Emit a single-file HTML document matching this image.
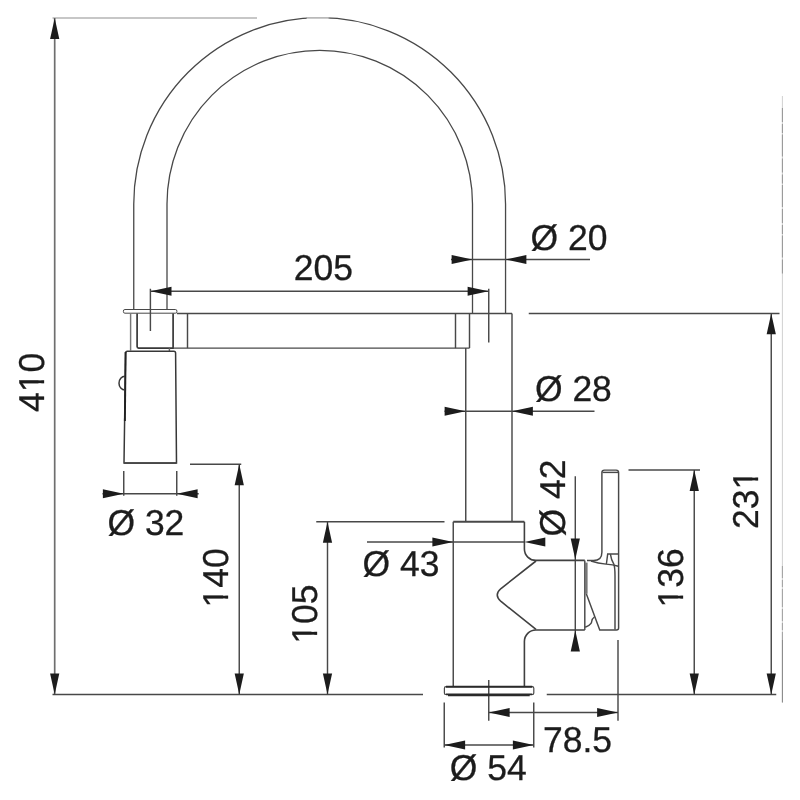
<!DOCTYPE html>
<html lang="en">
<head>
<meta charset="utf-8">
<title>Tap dimensions drawing</title>
<style>
html,body{margin:0;padding:0;background:#fff;}
body{width:800px;height:800px;overflow:hidden;}
svg{display:block;will-change:transform;}
svg text{font-family:"Liberation Sans",Arial,Helvetica,sans-serif;fill:#1c1c1c;stroke:#1c1c1c;stroke-width:0.3px;text-rendering:geometricPrecision;}
</style>
</head>
<body>
<svg width="800" height="800" viewBox="0 0 800 800">
<rect width="800" height="800" fill="#fff"/>
<g fill="none" stroke="#484848" stroke-width="1.45">
<line x1="52.5" y1="18" x2="257" y2="18" stroke="#b4b4b4" stroke-width="1.5"/>
<line x1="54.7" y1="18" x2="54.7" y2="694.5" stroke="#6e6e6e" stroke-width="1.7"/>
<line x1="52.5" y1="694.5" x2="423" y2="694.5"/>
<line x1="546.75" y1="694.5" x2="776.25" y2="694.5"/>
<line x1="150.4" y1="288.75" x2="150.4" y2="331"/>
<line x1="488.75" y1="288.75" x2="488.75" y2="342.5"/>
<line x1="150.4" y1="291.25" x2="488.75" y2="291.25"/>
<line x1="451" y1="259.5" x2="590" y2="259.5"/>
<line x1="444.5" y1="411.25" x2="594.5" y2="411.25"/>
<line x1="528.75" y1="313.4" x2="779.5" y2="313.4"/>
<line x1="771.25" y1="313.4" x2="771.25" y2="694.5"/>
<line x1="628.5" y1="470" x2="700" y2="470"/>
<line x1="694.25" y1="470" x2="694.25" y2="694.5"/>
<line x1="190" y1="464.25" x2="241.25" y2="464.25"/>
<line x1="239.25" y1="464.25" x2="239.25" y2="694.5"/>
<line x1="316.25" y1="521.75" x2="444.5" y2="521.75"/>
<line x1="327.5" y1="521.75" x2="327.5" y2="694.5"/>
<line x1="367" y1="542" x2="453.25" y2="542"/>
<line x1="453.25" y1="542" x2="524.4" y2="542"/>
<line x1="575.3" y1="476.25" x2="575.3" y2="650"/>
<line x1="123.75" y1="471" x2="123.75" y2="495.75"/>
<line x1="176.75" y1="471" x2="176.75" y2="495.75"/>
<line x1="102.5" y1="493.75" x2="198.75" y2="493.75"/>
<line x1="488.75" y1="680" x2="488.75" y2="720.75"/>
<line x1="618" y1="640" x2="618" y2="720.75"/>
<line x1="488.75" y1="712.5" x2="618" y2="712.5"/>
<line x1="444.25" y1="702.5" x2="444.25" y2="747.5"/>
<line x1="533.75" y1="702.5" x2="533.75" y2="747.5"/>
<line x1="444.25" y1="745.0" x2="533.75" y2="745.0"/>
<line x1="782.4" y1="96" x2="782.4" y2="702.5" stroke="#d0d0d0" stroke-width="1"/>
<line x1="782.4" y1="108" x2="782.4" y2="273.5" stroke="#8c8c8c" stroke-width="0.9" stroke-dasharray="14 2 9 1.5 22 2"/>
<line x1="782.4" y1="566" x2="782.4" y2="640" stroke="#9a9a9a" stroke-width="0.9" stroke-dasharray="12 2 7 2 18 2"/>
<line x1="782.4" y1="640" x2="782.4" y2="702.5" stroke="#848484" stroke-width="1"/>
<path d="M133.75,309.6 V204 A185.9,186.3 0 0 1 505.55,204 V313.4" stroke-width="1.3"/>
<path d="M167,309.6 V204 A152.75,153.6 0 0 1 472.5,204 V313.4" stroke-width="1.3"/>
<line x1="307" y1="17.9" x2="328.5" y2="17.9" stroke="#fff" stroke-width="3.2"/>
<line x1="306" y1="17.9" x2="329.5" y2="17.9" stroke="#a8a8a8" stroke-width="1.4"/>
<rect x="123.4" y="309.5" width="53.5" height="3.7" rx="1.5" stroke-width="1"/>
<line x1="130.6" y1="313.3" x2="130.6" y2="350.6" stroke="#777"/>
<path d="M137.1,313.4 V346.6 Q137.1,348.1 138.6,348.1 H173.1 V313.4" stroke-width="1.7" stroke="#383838"/>
<line x1="169.4" y1="348.1" x2="169.4" y2="351.2" stroke="#666"/>
<line x1="176.9" y1="313.4" x2="512" y2="313.4"/>
<line x1="173.1" y1="348.1" x2="469.5" y2="348.1"/>
<line x1="187.5" y1="313.4" x2="187.5" y2="348.1"/>
<line x1="455.5" y1="313.4" x2="455.5" y2="348.1"/>
<line x1="469.5" y1="313.4" x2="469.5" y2="348.1"/>
<line x1="465.75" y1="348.1" x2="465.75" y2="521.75"/>
<line x1="512" y1="313.4" x2="512" y2="521.75"/>
<line x1="453.25" y1="521.75" x2="524.4" y2="521.75" stroke-width="1.8"/>
<line x1="453.25" y1="521.75" x2="453.25" y2="686"/>
<path d="M524.4,521.75 V549 A11.4,11.4 0 0 0 535.8,560.4 H584.8" stroke="#404040" stroke-width="1.6"/>
<path d="M584.8,630 H535.8 A11.4,11.4 0 0 0 524.4,641.4 V686" stroke="#404040" stroke-width="1.6"/>
<path d="M536,561 L501,588.5 Q493.5,595 501,601.5 L536,629.4" stroke="#404040" stroke-width="1.6"/>
<rect x="444.4" y="686.7" width="89.4" height="7.8" rx="1.6" stroke-width="1.2"/>
<line x1="446" y1="686.8" x2="532.2" y2="686.8" stroke-width="1.9" stroke="#2a2a2a"/>
<line x1="446" y1="694.4" x2="532.2" y2="694.4" stroke-width="1.6" stroke="#2a2a2a"/>
<line x1="448" y1="695.5" x2="529.7" y2="695.5" stroke-width="1.5" stroke="#2a2a2a"/>
<line x1="584.8" y1="560.4" x2="584.8" y2="630"/>
<path d="M586.2,562.6 V593.75" stroke="#777" stroke-width="2.8"/>
<path d="M586.3,593.75 L599.75,630 H616.5 Q618.6,630 618.6,628 V472.6 Q618.6,470.1 616.1,470.1 H604.4 Q601.9,470.1 601.9,472.6 V552.2 Q601.9,560.5 593.6,560.5 H587"/>
<line x1="602.5" y1="472.4" x2="618" y2="472.4"/>
<path d="M591,561 Q598,563.4 606,564.1 Q613,564.5 618.4,566.2"/>
<path d="M610.4,554.2 Q611.2,560 613.7,563.8 Q615,567 615,576 V629.4"/>
<path d="M606.4,564 L607.7,553.9 H618.4"/>
<path d="M585.2,627.2 Q589.5,625.6 590.8,623.6 Q591.6,623 591.8,621 Q592.2,618.6 594.4,617"/>
<path d="M125.6,353 Q125.6,351.2 127.4,351.2 H173.9 Q175.6,351.2 175.6,353 L176.5,463.1 H124 Z" stroke="#383838" stroke-width="1.5"/>
<path d="M125.6,352 L124.9,421" stroke-width="1.9" stroke="#222"/>
<line x1="124" y1="463.1" x2="176.5" y2="463.1" stroke-width="1.6"/>
<path d="M125,376.3 A6,6.9 0 0 0 125,390.1" stroke="#383838" stroke-width="1.5"/>
</g>
<g fill="#1c1c1c" stroke="none">
<polygon points="54.70,18.00 59.30,38.90 50.10,38.90"/>
<polygon points="54.70,694.50 50.10,673.60 59.30,673.60"/>
<polygon points="150.60,291.25 171.50,286.65 171.50,295.85"/>
<polygon points="488.50,291.25 467.60,295.85 467.60,286.65"/>
<polygon points="472.50,259.50 451.60,264.10 451.60,254.90"/>
<polygon points="505.50,259.50 526.40,254.90 526.40,264.10"/>
<polygon points="465.50,411.25 444.60,415.85 444.60,406.65"/>
<polygon points="512.00,411.25 532.90,406.65 532.90,415.85"/>
<polygon points="771.25,313.40 775.85,334.30 766.65,334.30"/>
<polygon points="771.25,694.50 766.65,673.60 775.85,673.60"/>
<polygon points="694.25,470.00 698.85,490.90 689.65,490.90"/>
<polygon points="694.25,694.50 689.65,673.60 698.85,673.60"/>
<polygon points="239.25,464.25 243.85,485.15 234.65,485.15"/>
<polygon points="239.25,694.50 234.65,673.60 243.85,673.60"/>
<polygon points="327.50,521.75 332.10,542.65 322.90,542.65"/>
<polygon points="327.50,694.50 322.90,673.60 332.10,673.60"/>
<polygon points="453.25,542.00 432.35,546.60 432.35,537.40"/>
<polygon points="524.40,542.00 545.30,537.40 545.30,546.60"/>
<polygon points="575.30,559.50 570.70,538.60 579.90,538.60"/>
<polygon points="575.30,630.50 579.90,651.40 570.70,651.40"/>
<polygon points="123.75,493.75 102.85,498.35 102.85,489.15"/>
<polygon points="176.75,493.75 197.65,489.15 197.65,498.35"/>
<polygon points="488.75,712.50 509.65,707.90 509.65,717.10"/>
<polygon points="618.00,712.50 597.10,717.10 597.10,707.90"/>
<polygon points="444.25,745.00 465.15,740.40 465.15,749.60"/>
<polygon points="533.75,745.00 512.85,749.60 512.85,740.40"/>
</g>
<g>
<g transform="translate(323.3,280) scale(1,1.012)"><text x="0" y="0" font-size="35.5" text-anchor="middle">205</text></g>
<g transform="translate(530.5,250) scale(1,1.012)"><text x="0" y="0" font-size="35.5" text-anchor="start">Ø 20</text></g>
<g transform="translate(534.9,401.2) scale(1,1.012)"><text x="0" y="0" font-size="35.5" text-anchor="start">Ø 28</text></g>
<g transform="translate(107.4,535.3) scale(1,1.012)"><text x="0" y="0" font-size="35.5" text-anchor="start">Ø 32</text></g>
<g transform="translate(362.5,576.3) scale(1,1.012)"><text x="0" y="0" font-size="35.5" text-anchor="start">Ø 43</text></g>
<g transform="translate(449.7,780.0) scale(1,1.012)"><text x="0" y="0" font-size="35.5" text-anchor="start">Ø 54</text></g>
<g transform="translate(542.9,752.0) scale(1,1.012)"><text x="0" y="0" font-size="35.5" text-anchor="start">78.5</text></g>
<g transform="translate(43.7,382.4) rotate(-90) scale(1,1.012)"><text x="0" y="0" font-size="35.5" text-anchor="middle">410</text><rect x="-9.01" y="-5.20" width="8.06" height="7.63" fill="#fff"/><rect x="2.19" y="-5.20" width="7.70" height="7.63" fill="#fff"/></g>
<g transform="translate(228.3,578.0) rotate(-90) scale(1,1.012)"><text x="0" y="0" font-size="35.5" text-anchor="middle">140</text><rect x="-28.75" y="-5.20" width="8.06" height="7.63" fill="#fff"/><rect x="-17.55" y="-5.20" width="7.70" height="7.63" fill="#fff"/></g>
<g transform="translate(316.7,614.2) rotate(-90) scale(1,1.012)"><text x="0" y="0" font-size="35.5" text-anchor="middle">105</text><rect x="-28.75" y="-5.20" width="8.06" height="7.63" fill="#fff"/><rect x="-17.55" y="-5.20" width="7.70" height="7.63" fill="#fff"/></g>
<g transform="translate(565.1,498.0) rotate(-90) scale(1,1.012)"><text x="0" y="0" font-size="35.5" text-anchor="middle">Ø 42</text></g>
<g transform="translate(683.1,578.0) rotate(-90) scale(1,1.012)"><text x="0" y="0" font-size="35.5" text-anchor="middle">136</text><rect x="-28.75" y="-5.20" width="8.06" height="7.63" fill="#fff"/><rect x="-17.55" y="-5.20" width="7.70" height="7.63" fill="#fff"/></g>
<g transform="translate(757.6,499.4) rotate(-90) scale(1,1.012)"><text x="0" y="0" font-size="35.5" text-anchor="middle">231</text><rect x="10.74" y="-5.20" width="8.06" height="7.63" fill="#fff"/><rect x="21.94" y="-5.20" width="7.70" height="7.63" fill="#fff"/></g>
</g>
</svg>
</body>
</html>
